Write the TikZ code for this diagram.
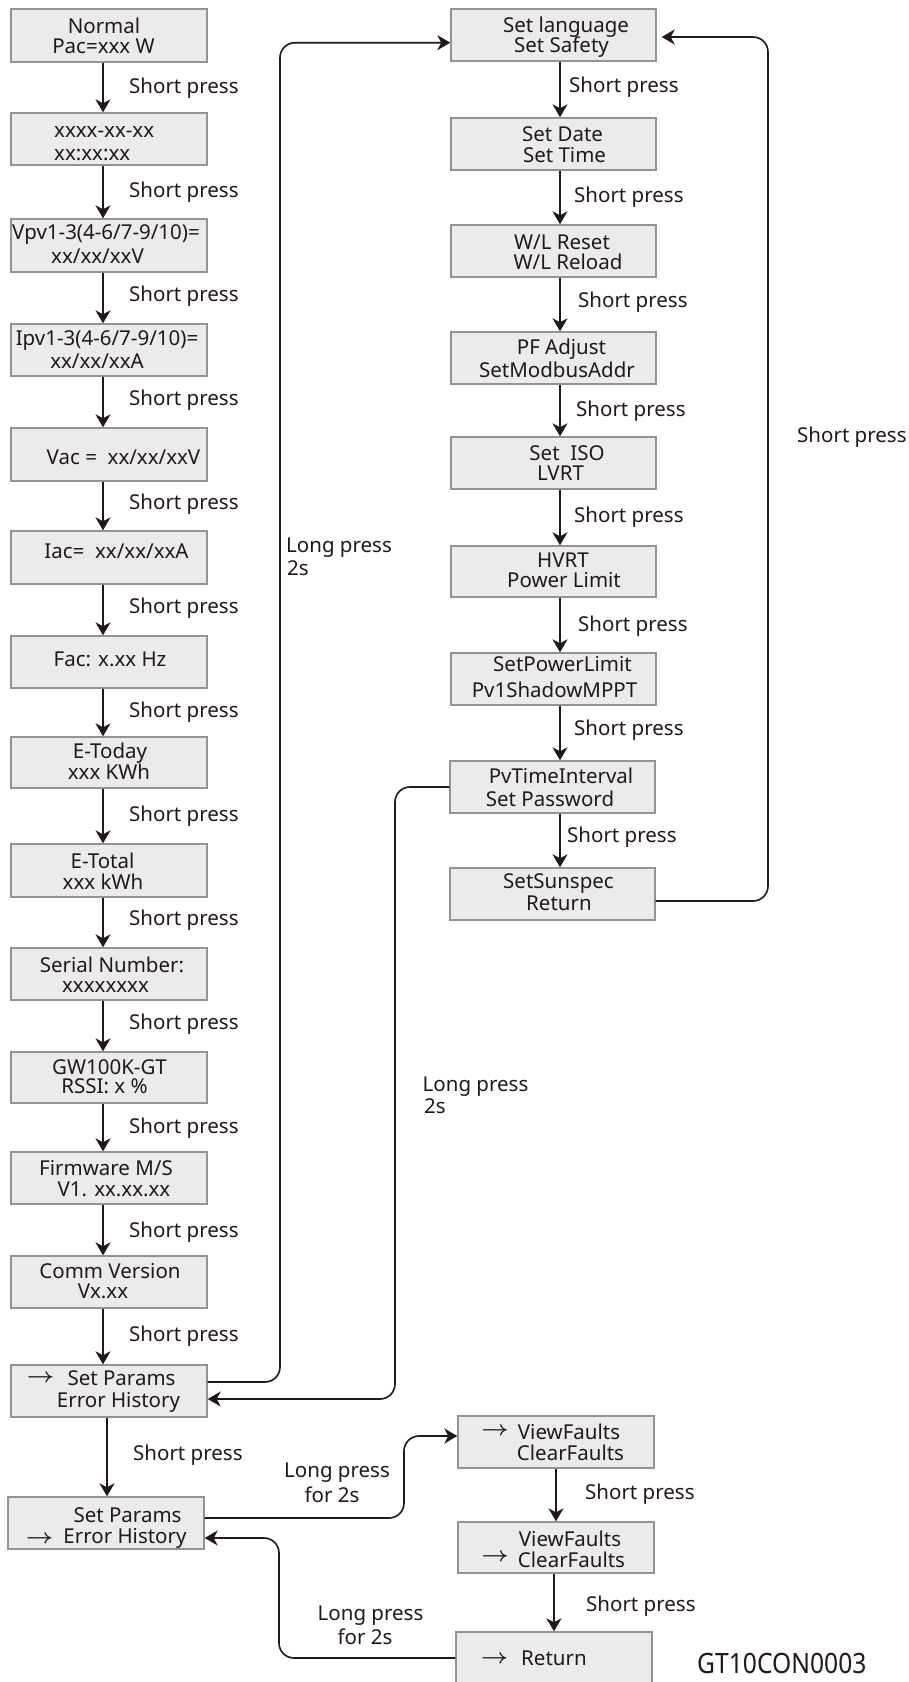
\documentclass[tikz,border=0pt]{standalone}
\usepackage{bm}
\usepackage{fontspec}
\setmainfont{Noto Sans}
\usetikzlibrary{arrows.meta}
\definecolor{ink}{HTML}{231815}
\definecolor{boxfill}{HTML}{EBEBEC}
\definecolor{boxline}{HTML}{939393}
\newcommand\mkbox[5]{\node[bx,minimum width={#4-#2},minimum height={#5-#3}] (#1) at ({(#2+#4)/2},{(#3+#5)/2}) {};}
\newcommand\bline[4]{\node[txt,anchor=base] (#1) at (#2,#3) {#4};}
\newcommand\wline[4]{\node[txt,anchor=base west] (#1) at (#2,#3) {#4};}
\newcommand\arrmark[3]{\node[txt,anchor=base,xscale=1.15] (#1) at (#2,#3) {$\bm{\rightarrow}$};}
\begin{document}
\begin{tikzpicture}[x=1pt,y=-1pt,
  bx/.style={draw=boxline,fill=boxfill,line width=1.4pt,inner sep=0pt,rectangle},
  txt/.style={inner sep=0pt,text=ink,font=\fontsize{20.5}{21}\selectfont},
  conn/.style={draw=ink,line width=1.6pt,-{Stealth[length=13pt,width=15pt,inset=4pt]}},
  rc/.style={rounded corners=15pt}]
\useasboundingbox[fill=white] (0,0) rectangle (908,1682);
% ---------- left column boxes ----------
\mkbox{b0}{11}{9}{207}{62}
\mkbox{b1}{11}{113}{207}{165}
\mkbox{b2}{11}{219}{207}{272}
\mkbox{b3}{11}{324}{207}{376}
\mkbox{b4}{11}{428}{207}{481}
\mkbox{b5}{11}{531}{207}{584}
\mkbox{b6}{11}{636}{207}{688}
\mkbox{b7}{11}{737}{207}{788}
\mkbox{b8}{11}{844}{207}{897}
\mkbox{b9}{11}{948}{207}{1000}
\mkbox{b10}{11}{1052}{207}{1103}
\mkbox{b11}{11}{1152}{207}{1204}
\mkbox{b12}{11}{1256}{207}{1308}
\mkbox{b13}{11}{1365}{207}{1417}
\mkbox{b14}{8}{1497}{204}{1549}
% ---------- right column boxes ----------
\mkbox{r0}{451}{9}{656}{61}
\mkbox{r1}{451}{118}{656}{170}
\mkbox{r2}{451}{225}{656}{277}
\mkbox{r3}{451}{332}{656}{384}
\mkbox{r4}{451}{437}{656}{489}
\mkbox{r5}{451}{546}{656}{597}
\mkbox{r6}{451}{653}{656}{705}
\mkbox{r7}{450}{761}{655}{813}
\mkbox{r8}{450}{868}{655}{920}
% ---------- bottom boxes ----------
\mkbox{v1}{458}{1416}{654}{1468}
\mkbox{v2}{458}{1522}{654}{1573}
\mkbox{ret}{456}{1632}{652}{1700}
% ---------- box texts ----------
\bline{t0a}{104}{33}{Normal}
\bline{t0b}{103.5}{53}{Pac=xxx W}
\wline{t1a}{54}{137}{xxxx-xx-xx}
\wline{t1b}{54}{160}{xx:xx:xx}
\bline{t2a}{106}{239}{Vpv1-3(4-6/7-9/10)=}
\bline{t2b}{97.5}{263}{xx/xx/xxV}
\bline{t3a}{107}{345}{Ipv1-3(4-6/7-9/10)=}
\bline{t3b}{97}{368}{xx/xx/xxA}
\bline{t4}{123.5}{464}{Vac = \ xx/xx/xxV}
\bline{t5}{116.5}{558}{Iac= \ xx/xx/xxA}
\bline{t6}{110}{666}{Fac: x.xx Hz}
\bline{t7a}{110}{758}{E-Today}
\bline{t7b}{109}{779}{xxx KWh}
\bline{t8a}{102.5}{868}{E-Total}
\bline{t8b}{103}{889}{xxx kWh}
\bline{t9a}{112}{972}{Serial Number:}
\bline{t9b}{105.5}{992}{xxxxxxxx}
\bline{t10a}{109.5}{1074}{GW100K-GT}
\bline{t10b}{104.5}{1093}{RSSI: x \%}
\bline{t11a}{106}{1175}{Firmware M/S}
\bline{t11b}{114}{1196}{V1. xx.xx.xx}
\bline{t12a}{110}{1278}{Comm Version}
\bline{t12b}{103}{1298}{Vx.xx}
\arrmark{m13}{40.5}{1382}
\bline{t13a}{121.5}{1385}{Set Params}
\bline{t13b}{118.5}{1407}{Error History}
\bline{t14a}{127.5}{1522}{Set Params}
\arrmark{m14}{39.5}{1543}
\bline{t14b}{125}{1543}{Error History}
\bline{s0a}{566}{32}{Set language}
\bline{s0b}{561.5}{52}{Set Safety}
\bline{s1a}{562.5}{141}{Set Date}
\bline{s1b}{564.5}{162}{Set Time}
\bline{s2a}{562}{249}{W/L Reset}
\bline{s2b}{568}{269}{W/L Reload}
\bline{s3a}{561.5}{354}{PF Adjust}
\bline{s3b}{557}{377}{SetModbusAddr}
\bline{s4a}{567}{460}{Set \ ISO}
\bline{s4b}{560.5}{480}{LVRT}
\bline{s5a}{563}{567}{HVRT}
\bline{s5b}{564}{587}{Power Limit}
\bline{s6a}{562.5}{671}{SetPowerLimit}
\bline{s6b}{554.5}{697}{Pv1ShadowMPPT}
\bline{s7a}{561}{783}{PvTimeInterval}
\bline{s7b}{550}{806}{Set Password}
\bline{s8a}{558.5}{888}{SetSunspec}
\bline{s8b}{559}{910}{Return}
\arrmark{mv1}{495}{1435}
\bline{u1a}{569}{1439}{ViewFaults}
\bline{u1b}{570.5}{1460}{ClearFaults}
\bline{u2a}{570}{1546}{ViewFaults}
\arrmark{mv2}{495}{1561}
\bline{u2b}{571.5}{1567}{ClearFaults}
\arrmark{mret}{494.5}{1663}
\bline{u3}{554}{1665}{Return}
% ---------- vertical short-press arrows ----------
\coordinate (LX) at (103,0);
\coordinate (RX) at (560,0);
\foreach \a/\b in {b0/b1,b1/b2,b2/b3,b3/b4,b4/b5,b5/b6,b6/b7,b7/b8,b8/b9,b9/b10,b10/b11,b11/b12,b12/b13}
  \draw[conn] (\a.south -| LX) -- (\b.north -| LX);
\foreach \a/\b in {r0/r1,r1/r2,r2/r3,r3/r4,r4/r5,r5/r6,r6/r7,r7/r8}
  \draw[conn] (\a.south -| RX) -- (\b.north -| RX);
\coordinate (MX) at (107,0);
\draw[conn] (b13.south -| MX) -- (b14.north -| MX);
\coordinate (VX1) at (556,0);
\coordinate (VX2) at (554,0);
\draw[conn] (v1.south -| VX1) -- (v2.north -| VX1);
\draw[conn] (v2.south -| VX2) -- (ret.north -| VX2);
% ---------- short press labels ----------
\foreach \k in {0,...,12}
  \node[txt,anchor=base west] (sl\k) at (129,{93+104*\k}) {Short press};
\wline{sl13}{133}{1460}{Short press}
\wline{sr0}{569}{92}{Short press}
\wline{sr1}{574}{202}{Short press}
\wline{sr2}{578}{307}{Short press}
\wline{sr3}{576}{416}{Short press}
\wline{sr4}{574}{522}{Short press}
\wline{sr5}{578}{631}{Short press}
\wline{sr6}{574}{735}{Short press}
\wline{sr7}{567}{842}{Short press}
\wline{sbig}{797}{442}{Short press}
\wline{sv1}{585}{1499}{Short press}
\wline{sv2}{586}{1611}{Short press}
% ---------- long press connectors ----------
\coordinate (lp1) at (280,0);
\coordinate (r0in) at ([yshift=-7.7pt]r0.west);
\draw[conn,rc] ([yshift=9pt]b13.east) -| (lp1 |- r0in) -- (r0in);
\coordinate (lp2) at (395,0);
\coordinate (b13in) at ([yshift=-8pt]b13.east);
\draw[conn,rc] (r7.west) -| (lp2 |- b13in) -- (b13in);
\coordinate (rl) at (768,0);
\coordinate (r0r) at ([yshift=-2pt]r0.east);
\draw[conn,rc,shorten >=5pt] ([yshift=-7pt]r8.east) -| (rl |- r0r) -- (r0r);
\coordinate (lp3) at (404,0);
\coordinate (v1in) at ([yshift=6pt]v1.west);
\draw[conn,rc] ([yshift=5pt]b14.east) -| (lp3 |- v1in) -- (v1in);
\coordinate (lp4) at (279,0);
\coordinate (b14in) at ([yshift=-15pt]b14.east);
\draw[conn,rc] ([yshift=8pt]ret.west) -| (lp4 |- b14in) -- (b14in);
% ---------- long press labels ----------
\wline{l1a}{286}{552}{Long press}
\wline{l1b}{287}{575}{2s}
\wline{l2a}{422.5}{1091}{Long press}
\wline{l2b}{424}{1113}{2s}
\bline{l3a}{337}{1477}{Long press}
\bline{l3b}{332}{1502}{for 2s}
\bline{l4a}{370.5}{1620}{Long press}
\bline{l4b}{365}{1644}{for 2s}
% ---------- figure code ----------
\node[inner sep=0pt,text=ink,anchor=base west,font=\fontsize{28}{30}\selectfont,xscale=0.88] (code) at (697,1673) {GT10CON0003};
\end{tikzpicture}
\end{document}
